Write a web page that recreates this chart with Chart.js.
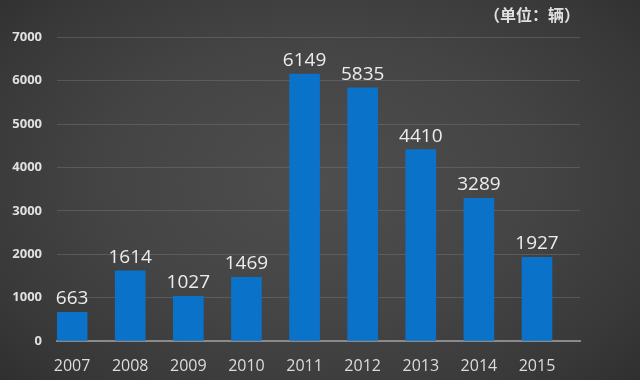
<!DOCTYPE html>
<html><head><meta charset="utf-8">
<script src="https://cdn.jsdelivr.net/npm/chart.js@4/dist/chart.umd.min.js"></script>
<style>
html,body{margin:0;padding:0;width:640px;height:380px;overflow:hidden;}
body{background:radial-gradient(ellipse 75% 85% at 50% 48%, #4e4e4e 0%, #444 45%, #383838 75%, #2a2a2a 100%);}
#wrap{position:relative;width:640px;height:380px;}
</style></head>
<body><div id="wrap"><canvas id="c" width="640" height="380"></canvas></div>
<script>
const categories = ['2007','2008','2009','2010','2011','2012','2013','2014','2015'];
const years = [2007,2008,2009,2010,2011,2012,2013,2014,2015];
const values = [663,1614,1027,1469,6149,5835,4410,3289,1927];
const yTicks = [0,1000,2000,3000,4000,5000,6000,7000];
const unitLabel = '（单位：辆）';

const valueLabels = {
  id:'valueLabels',
  afterDatasetsDraw(chart){
    const ctx = chart.ctx;
    const meta = chart.getDatasetMeta(0);
    ctx.save();
    ctx.fillStyle = '#ececec';
    ctx.font = '19px "Open Sans", "Noto Sans", sans-serif';
    ctx.textAlign = 'center';
    ctx.textBaseline = 'alphabetic';
    meta.data.forEach((el,i)=>{
      ctx.fillText(String(values[i]), el.x, el.y - 8);
    });
    ctx.restore();
  }
};

new Chart(document.getElementById('c'), {
  type:'bar',
  data:{
    datasets:[{
      data: years.map((y,i)=>({x:y, y:values[i]})),
      backgroundColor:'#0b72c9',
      borderWidth:0,
      barThickness:30
    }]
  },
  options:{
    responsive:false,
    animation:false,
    layout:{padding:{left:0,right:60,top:0,bottom:2}},
    plugins:{
      legend:{display:false},
      tooltip:{enabled:false},
      title:{
        display:true, text:unitLabel, align:'end',
        color:'#e0e0e0',
        font:{size:16, weight:'bold', family:'"Noto Sans CJK SC", sans-serif'},
        padding:{top:5,bottom:13}
      }
    },
    scales:{
      x:{
        type:'linear',
        offset:false,
        min:2006.74, max:2015.74,
        afterBuildTicks(scale){ scale.ticks = years.map(v=>({value:v})); },
        afterFit(scale){ scale.height = 37; },
        ticks:{
          color:'#dcdcdc',
          font:{size:16, family:'"Open Sans", "Noto Sans", sans-serif'},
          padding:8,
          callback:(v)=>{ const i = years.indexOf(v); return i>=0 ? categories[i] : ''; },
          maxRotation:0, autoSkip:false
        },
        grid:{display:false},
        border:{display:true, color:'#8a8a8a', width:2}
      },
      y:{
        min:0, max:7000,
        afterBuildTicks(scale){ scale.ticks = yTicks.map(v=>({value:v})); },
        afterFit(scale){ scale.width = 57; },
        ticks:{
          color:'#e0e0e0',
          font:{size:13, weight:'bold', family:'"Open Sans", "Noto Sans", sans-serif'},
          padding:15,
          callback:(v)=>String(v)
        },
        grid:{color:'rgba(120,120,120,0.45)', lineWidth:1, drawTicks:false},
        border:{display:false}
      }
    }
  },
  plugins:[valueLabels]
});
</script></body></html>
